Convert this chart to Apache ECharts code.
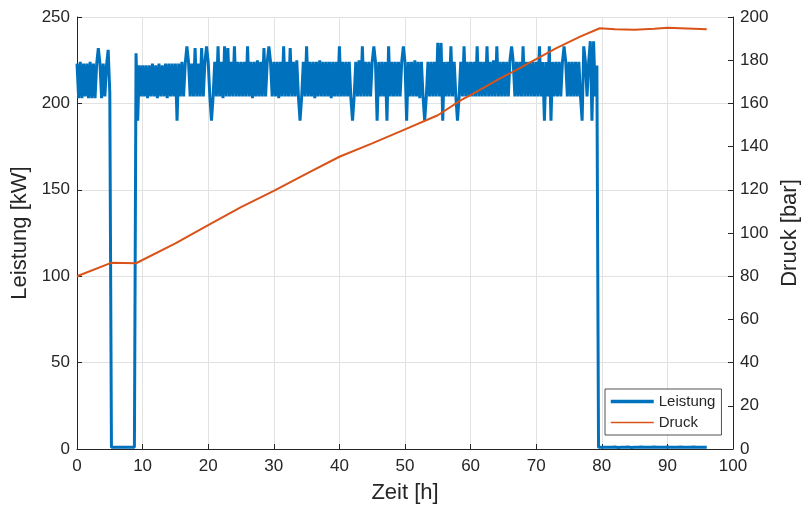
<!DOCTYPE html>
<html>
<head>
<meta charset="utf-8">
<script src="https://cdn.jsdelivr.net/npm/echarts@6/dist/echarts.min.js"></script>
<style>
html,body{margin:0;padding:0;background:#fff;}
#chart{width:802px;height:506px;}
</style>
</head>
<body>
<div id="chart"></div>
<script>
// Leistung [kW], sampled every 0.25 h starting at t = 0
const leistungStep = 0.25;
const leistung = [
  223,203,224,203,223,204,223,203,224,203,223,203,223,232,223,203,223,204,222,231,
  206,1,1,1,1,1,1,1,1,1,1,1,1,1,1,1,229,190,222,204,
  222,204,222,203,222,204,223,204,222,203,223,204,222,204,223,203,223,204,223,204,
  223,190,223,204,224,204,223,233,224,204,223,204,232,204,223,204,232,204,224,233,
  224,204,190,204,224,204,233,204,224,203,233,204,232,204,224,204,233,204,224,204,
  224,204,224,204,233,204,224,203,224,204,225,204,224,204,232,204,224,233,224,204,
  224,204,224,203,224,204,233,204,224,204,232,204,224,204,225,204,190,204,224,204,
  233,204,224,204,224,203,224,204,225,204,224,204,224,204,224,203,224,204,224,204,
  233,204,224,204,224,204,224,203,190,204,224,204,225,204,233,204,224,204,224,204,
  224,233,224,190,224,204,224,204,224,190,233,204,224,204,224,204,224,204,224,233,
  224,190,224,204,224,204,225,204,224,203,224,204,190,204,224,204,224,204,224,204,
  235,204,235,190,224,204,224,204,233,204,224,204,190,204,224,204,233,204,224,204,
  224,204,224,204,233,204,224,204,224,204,233,204,224,204,225,204,233,204,224,204,
  224,204,224,204,225,233,224,204,224,204,224,204,233,204,224,204,224,204,224,204,
  224,204,233,204,224,190,224,204,233,190,224,204,224,204,224,204,224,233,224,204,
  224,204,224,204,224,204,224,204,190,233,224,204,224,236,190,236,204,222,1,1,
  1,1.2,1,0.9,1,1.1,1,1,1.2,1,0.9,1,1,
  1.1,1,1,1.2,1,0.9,1,1,1.1,1,1,1.2,1,
  1,0.9,1,1.1,1,1,1.2,1,1,0.9,1,1.1,1,
  1,1.2,1,1,0.9,1,1.1,1,1,1.2,1,1,0.9,
  1,1.1,1,1,1.2,1,1,0.9,1,1.1,1,1,1
];

// Druck [bar]
const druckT = [0, 5.2, 9, 15, 20, 25, 30, 35, 40, 45, 50, 55, 58.6, 60.2, 64.5, 67, 70, 73, 76.7, 79.7, 82, 85, 88, 90, 93, 96];
const druckV = [80, 86.2, 86, 95.2, 103.7, 112, 119.5, 127.5, 135.3, 141.5, 148, 154.5, 161.6, 164.2, 171.6, 175.5, 180.5, 185.5, 190.9, 194.8, 194.3, 194.1, 194.6, 195, 194.7, 194.3];

const xTicks = {min: 0, max: 100, interval: 10};
const yLeftTicks = {min: 0, max: 250, interval: 50};
const yRightTicks = {min: 0, max: 200, interval: 20};

const leistungData = leistung.map((v, i) => [i * leistungStep, v]);
const druckData = druckT.map((t, i) => [t, druckV[i]]);

const axisColor = '#262626';
const gridColor = '#e2e2e2';
const font = 'Liberation Sans, Arial, Helvetica, sans-serif';

const chart = echarts.init(document.getElementById('chart'), null, {renderer: 'canvas'});
chart.setOption({
  animation: false,
  backgroundColor: '#ffffff',
  grid: {left: 77, right: 69, top: 17, bottom: 57, containLabel: false, outerBoundsMode: 'none'},
  legend: {
    orient: 'vertical',
    left: 605,
    top: 389,
    padding: [5, 6, 5, 4],
    itemGap: 6,
    itemWidth: 43,
    itemHeight: 14,
    backgroundColor: '#ffffff',
    borderColor: axisColor,
    borderWidth: 0.8,
    borderRadius: 0,
    itemStyle: {opacity: 0, borderWidth: 0},
    textStyle: {fontFamily: font, fontSize: 15, color: axisColor, lineHeight: 15},
    data: [
      {name: 'Leistung', lineStyle: {width: 3.5}, itemStyle: {opacity: 0, borderWidth: 0}},
      {name: 'Druck', lineStyle: {width: 1.7}, itemStyle: {opacity: 0, borderWidth: 0}}
    ]
  },
  xAxis: {
    type: 'value',
    min: xTicks.min, max: xTicks.max, interval: xTicks.interval,
    name: 'Zeit [h]',
    nameLocation: 'middle',
    nameGap: 33,
    nameTextStyle: {fontFamily: font, fontSize: 22, color: axisColor},
    axisLine: {show: true, onZero: false, lineStyle: {color: axisColor, width: 1}},
    axisTick: {show: true, inside: true, length: 5, lineStyle: {color: axisColor}},
    axisLabel: {fontFamily: font, fontSize: 17, color: axisColor, margin: 9},
    splitLine: {show: true, lineStyle: {color: gridColor, width: 1}}
  },
  yAxis: [
    {
      type: 'value',
      position: 'left',
      min: yLeftTicks.min, max: yLeftTicks.max, interval: yLeftTicks.interval,
      name: 'Leistung [kW]',
      nameLocation: 'middle',
      nameRotate: 90,
      nameGap: 41,
      nameTextStyle: {fontFamily: font, fontSize: 22, color: axisColor},
      axisLine: {show: true, lineStyle: {color: axisColor, width: 1}},
      axisTick: {show: true, inside: true, length: 5, lineStyle: {color: axisColor}},
      axisLabel: {fontFamily: font, fontSize: 17, color: axisColor, margin: 7},
      splitLine: {show: true, lineStyle: {color: gridColor, width: 1}}
    },
    {
      type: 'value',
      position: 'right',
      min: yRightTicks.min, max: yRightTicks.max, interval: yRightTicks.interval,
      name: 'Druck [bar]',
      nameLocation: 'middle',
      nameRotate: 90,
      nameGap: 45,
      nameTextStyle: {fontFamily: font, fontSize: 22, color: axisColor},
      axisLine: {show: true, lineStyle: {color: axisColor, width: 1}},
      axisTick: {show: true, inside: true, length: 5, lineStyle: {color: axisColor}},
      axisLabel: {fontFamily: font, fontSize: 17, color: axisColor, margin: 7},
      splitLine: {show: false}
    }
  ],
  series: [
    {
      name: 'Leistung',
      type: 'line',
      yAxisIndex: 0,
      data: leistungData,
      showSymbol: false,
      symbol: 'none',
      lineStyle: {color: '#0072BD', width: 3},
      itemStyle: {color: '#0072BD'},
      z: 2
    },
    {
      name: 'Druck',
      type: 'line',
      yAxisIndex: 1,
      data: druckData,
      showSymbol: false,
      symbol: 'none',
      lineStyle: {color: '#D95319', width: 2},
      itemStyle: {color: '#D95319'},
      z: 3
    }
  ]
});
</script>
</body>
</html>
